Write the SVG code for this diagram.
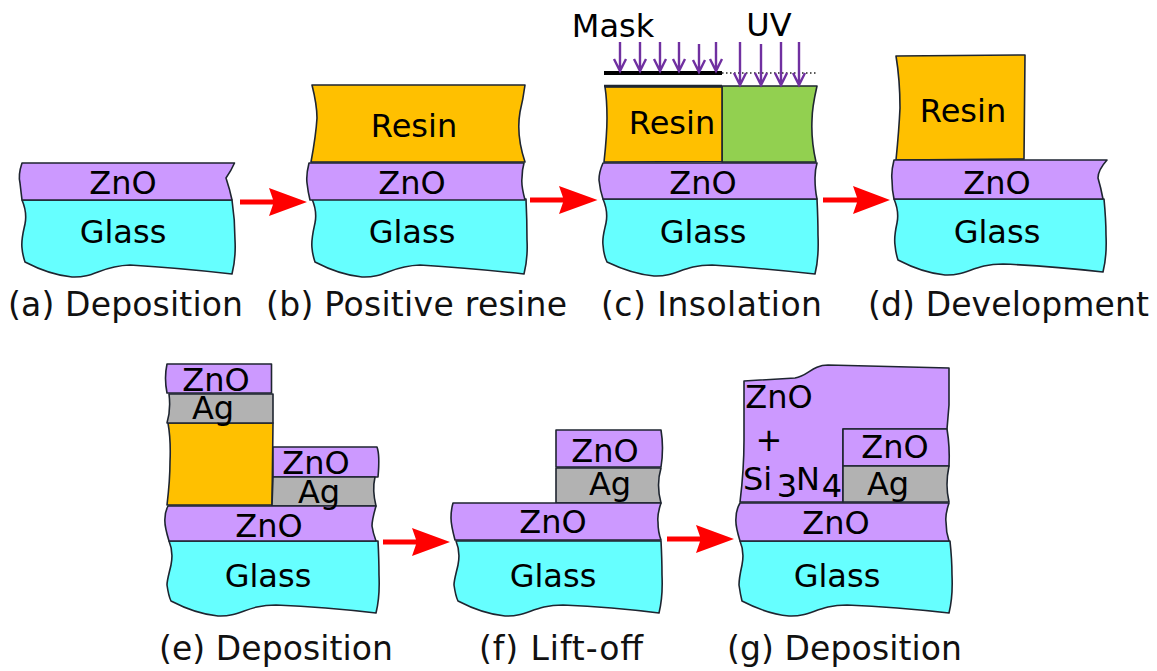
<svg xmlns="http://www.w3.org/2000/svg" width="1157" height="671" viewBox="0 0 1157 671">
<style>
path.l{stroke:#1e2530;stroke-width:1.6;stroke-linejoin:round}
.z{fill:#c9f}.g{fill:#6ff}.r{fill:#ffc000}.v{fill:#92d050}.a{fill:#b2b2b2}
text{font-family:"DejaVu Sans",Verdana,sans-serif;font-size:32px;fill:#000;text-anchor:middle}
text.c{font-size:33px;text-anchor:start;fill:#111}
text.s{text-anchor:start}
.uv{fill:none;stroke:#7030a0;stroke-width:2.400}
.ar{fill:#f00;stroke:none}
</style>
<g id="a-deposition">
<path class="l g" d="M22 200C25 207 27 214 25 224C23 233 21 240 22 248C22.500 254 24 259 25 262Q50 275 72 277C95 278 100 266 130 265Q180 268 232 274Q236 258 235 240Q235 220 232 200Z"/>
<path class="l z" d="M22 163Q18 175 20 183Q21 192 22 200H232Q230 190 226 178Q231 171 234.500 163Z"/>
<text x="123" y="194">ZnO</text><text x="123" y="243">Glass</text>
<text class="c" x="8" y="316" textLength="235">(a) Deposition</text>
</g>
<g id="b-positive-resine">
<path class="l g" d="M312 199C315 206 317 213 315 223C313 232 311 240 312 248C312.500 254 314 259 315 262Q340 275 362 277C385 278 390 266 420 265Q470 268 524 274Q528 258 527 240Q527 220 526 199Z"/>
<path class="l r" d="M312 85H525Q523 100 520 112Q516 135 525 162H311Q316 135 317 118Q317 105 312 85Z"/>
<path class="l z" d="M309 163Q306 175 307 183Q308 192 310 200H525Q521 185 522 178Q522 170 524 163Z"/>
<text x="414" y="137">Resin</text><text x="412" y="194">ZnO</text><text x="412" y="243">Glass</text>
<text class="c" x="266" y="316" textLength="301">(b) Positive resine</text>
</g>
<g id="c-insolation">
<path class="l g" d="M603 199C606 206 608 213 606 223C604 232 602 238 603 245C603.500 252 605 258 607 262Q632 274 654 276C677 277 682 265 712 265Q760 268 815 274Q819 258 818 235Q818 220 817 199Z"/>
<path class="l v" d="M722 86H817Q812 108 812 120Q811 140 816 162H722Z"/>
<path class="l r" d="M605 87H722V161.500L604 162Q607 135 607 118Q607 100 605 87Z"/>
<path d="M604 86H722" fill="none" stroke="#1e2530" stroke-width="2.500"/>
<path class="l z" d="M603 163Q599 172 599 180Q600 190 603 199H817Q815 190 815 178Q815 170 817 163Z"/>
<path d="M604 73H722" fill="none" stroke="#000" stroke-width="4"/>
<path d="M722 73H818" fill="none" stroke="#222" stroke-width="1.500" stroke-dasharray="1.500 2.500"/>
<g class="uv">
<path d="M620 42V71M614 59L620 71L626 59"/><path d="M640 42V71M634 59L640 71L646 59"/><path d="M660 42V71M654 59L660 71L666 59"/><path d="M679 42V71M673 59L679 71L685 59"/><path d="M699 44V72M693 60L699 72L705 60"/><path d="M716 42V71M710 59L716 71L722 59"/>
<path d="M740 42V85M734 73L740 85L746 73"/><path d="M761 44V85M755 73L761 85L767 73"/><path d="M781 42V85M775 73L781 85L787 73"/><path d="M799 42V85M793 73L799 85L805 73"/>
</g>
<text x="613" y="37">Mask</text><text x="769" y="36">UV</text>
<text x="672" y="134">Resin</text><text x="703" y="194">ZnO</text><text x="703" y="243">Glass</text>
<text class="c" x="601" y="316" textLength="221">(c) Insolation</text>
</g>
<g id="d-development">
<path class="l g" d="M894 199C897 206 899 213 897 223C895 232 894 238 895 245C895.500 251 897 257 898 260Q923 273 945 275C968 276 973 264 1003 264Q1050 266 1103 272Q1107 256 1106 235Q1106 220 1104 199Z"/>
<path class="l r" d="M896 56L1025 55L1024 159L896 160Q899 130 900 108Q900 80 896 56Z"/>
<path class="l z" d="M894 160Q891 172 892 180Q892 190 894 199H1103Q1101 188 1098 178Q1098 170 1107 160Z"/>
<text x="963" y="122">Resin</text><text x="997" y="194">ZnO</text><text x="997" y="243">Glass</text>
<text class="c" x="868" y="316" textLength="281">(d) Development</text>
</g>
<g id="e-deposition">
<path class="l g" d="M169 541C172 548 173 555 171 565C169 574 167 580 167 585C168 592 169 597 171 601Q196 614 218 616C241 617 246 605 276 605Q325 607 376 613Q380 597 379 575Q379 560 378 541Z"/>
<path class="l r" d="M168 423H273L272 505H167Q170 480 170 462Q171 440 168 423Z"/>
<path class="l a" d="M169 394H273V423H167Q171 410 169 394Z"/>
<path class="l z" d="M167 364H271.500V393H167Q164 378 167 364Z"/>
<path class="l z" d="M273 447H377Q380 455 378 477H273Z"/>
<path class="l a" d="M273 477H375Q372 490 376 506H272Z"/>
<path class="l z" d="M168 506H376Q372 520 372 526Q373 533 376 541H169Q164 525 165 518Q165 512 168 506Z"/>
<text x="216" y="391">ZnO</text><text x="213" y="419">Ag</text><text x="316" y="474">ZnO</text><text x="319" y="503">Ag</text><text x="269" y="537">ZnO</text><text x="268" y="587">Glass</text>
<text class="c" x="159" y="660" textLength="234">(e) Deposition</text>
</g>
<g id="f-lift-off">
<path class="l g" d="M456 541C459 548 460 555 458 565C456 574 454 580 454 585C455 592 456 597 458 601Q483 614 505 616C528 617 533 605 563 605Q612 607 659 613Q663 597 662 575Q662 560 661 541Z"/>
<path class="l z" d="M556 430H661Q664 448 661 467H556Z"/>
<path class="l a" d="M556 468H661Q656 485 661 503H556Z"/>
<path class="l z" d="M453 503H661Q657 515 658 522Q658 532 661 540H455Q451 525 451 518Q451 510 453 503Z"/>
<text x="605" y="462">ZnO</text><text x="610" y="495">Ag</text><text x="553" y="533">ZnO</text><text x="553" y="587">Glass</text>
<text class="c" x="479" y="660" textLength="164">(f) Lift-off</text>
</g>
<g id="g-deposition">
<path class="l g" d="M740 541C743 548 744 555 742 565C740 574 739 580 739 585C740 592 741 597 742 601Q767 614 789 616C812 617 817 605 847 605Q896 607 949 613Q953 597 952 575Q952 560 950 541Z"/>
<path class="l z" d="M744 381L795 378C808 376 812 365 828 365L949 368V405L947 429H843V502H740Q744 470 744 440Z"/>
<path class="l z" d="M843 429H947Q950 447 949 466H843Z"/>
<path class="l a" d="M843 466H949Q945 485 949 502H843Z"/>
<path class="l z" d="M740 503H949Q945 515 946 522Q946 532 949 541H740Q735 525 736 518Q736 510 740 503Z"/>
<text x="779" y="408">ZnO</text><text x="769" y="451">+</text>
<text class="s" x="743" y="490">Si</text><text x="787" y="497">3</text><text class="s" x="796" y="490">N</text><text x="832" y="497">4</text>
<text x="895" y="458">ZnO</text><text x="888" y="495">Ag</text><text x="836" y="534">ZnO</text><text x="837" y="587">Glass</text>
<text class="c" x="727" y="660" textLength="235">(g) Deposition</text>
</g>
<g id="connectors">
<path class="ar" d="M240 199.500H273L269 188L307 202L269 216L273 204.500H240Z"/>
<path class="ar" d="M530 197.500H563L559 186L597.500 200L559 214L563 202.500H530Z"/>
<path class="ar" d="M823 197.500H857L853 186L890 200L853 214L857 202.500H823Z"/>
<path class="ar" d="M383 539.500H416L412 528L450 542L412 556L416 544.500H383Z"/>
<path class="ar" d="M667 536.500H700L696 525L734 539L696 553L700 541.500H667Z"/>
</g>
</svg>
